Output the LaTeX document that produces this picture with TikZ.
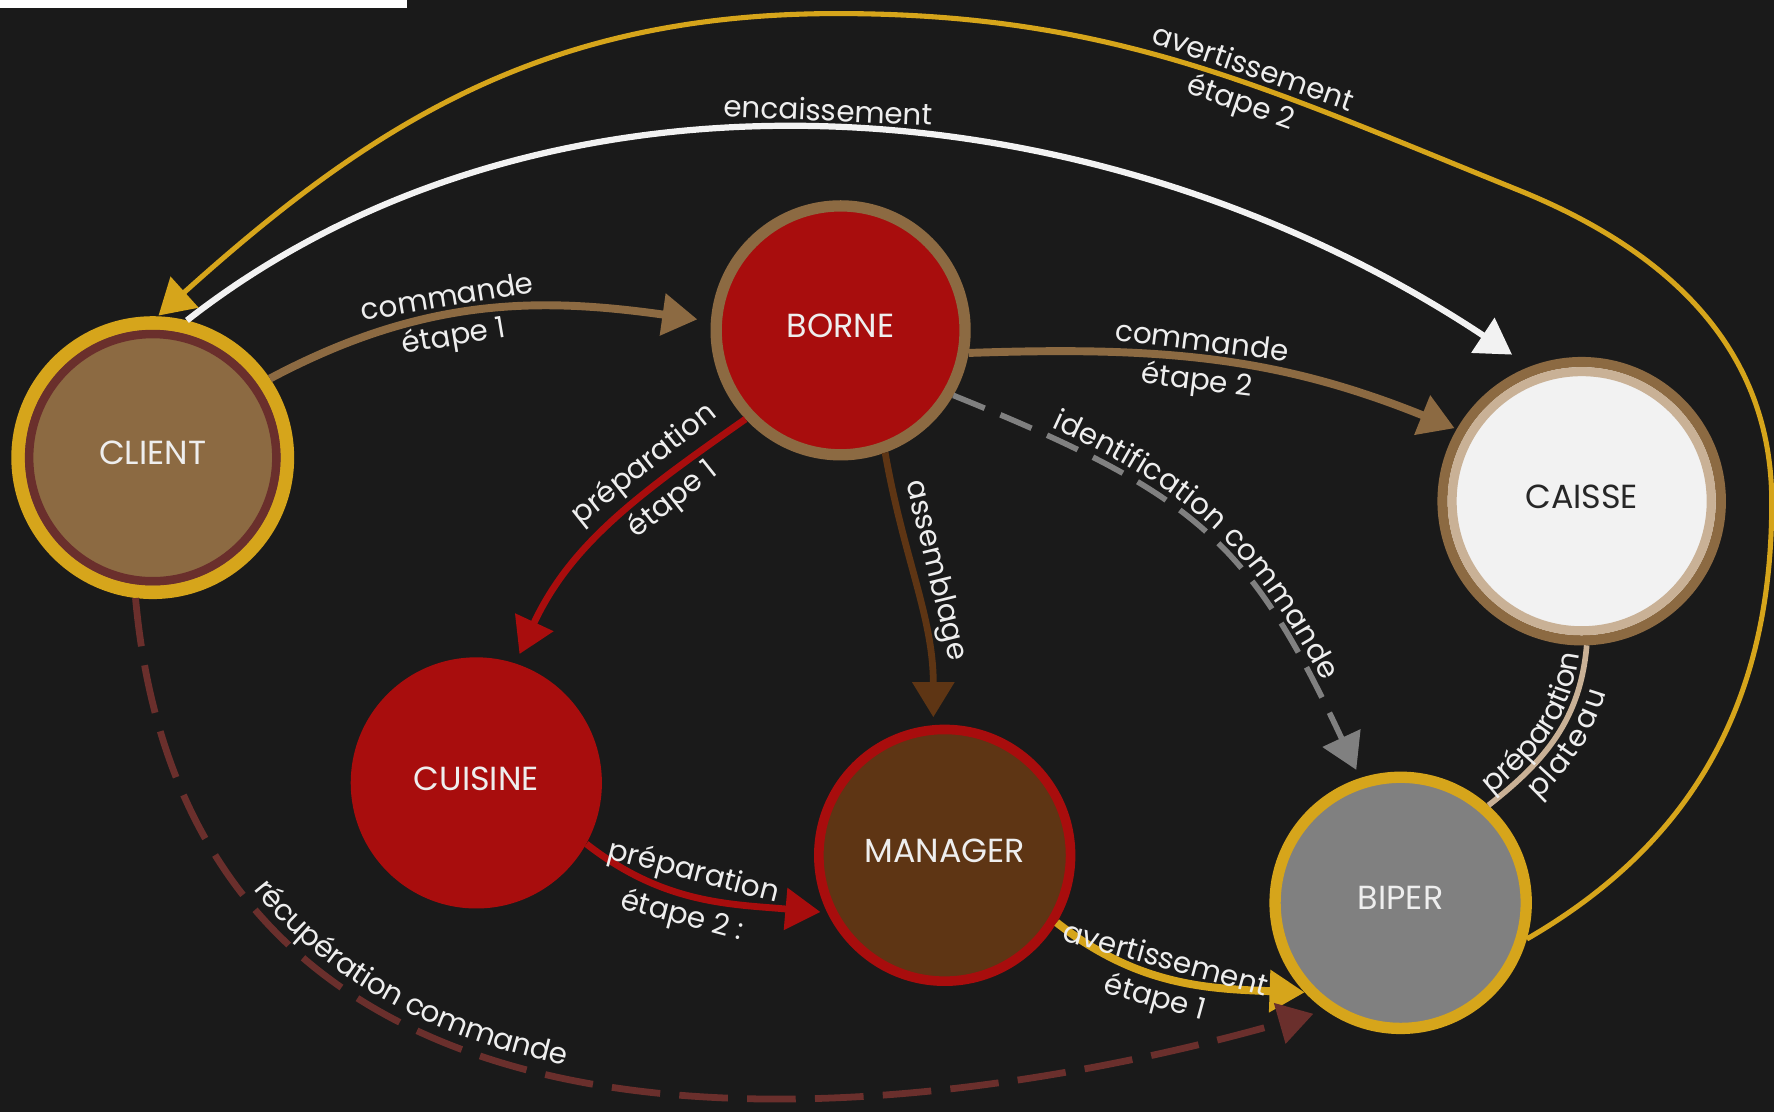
\documentclass[tikz,border=0pt]{standalone}
\usepackage{fontspec}
\setmainfont{Poppins}
\usetikzlibrary{arrows.meta,decorations.text}
\definecolor{bg}{HTML}{1A1A1A}
\definecolor{gold}{HTML}{D6A51B}
\definecolor{brn}{HTML}{8C6A42}
\definecolor{ring}{HTML}{6A2F2C}
\definecolor{rd}{HTML}{A80D0D}
\definecolor{dbrn}{HTML}{5E3514}
\definecolor{gry}{HTML}{808080}
\definecolor{beige}{HTML}{C9B196}
\definecolor{wht}{HTML}{F2F2F2}
\definecolor{txt}{HTML}{EEEEEE}
\newcommand\lblfont{\fontsize{26}{30}\selectfont}
\newcommand\ndfont{\fontsize{29.5}{34}\selectfont}
\begin{document}
\begin{tikzpicture}[x=1pt,y=1pt,
  circ/.style={circle, inner sep=0pt, font=\ndfont, text=txt, text depth=8pt},
  lbl/.style={font=\lblfont, text=txt, inner sep=3.5pt, sloped},
  tip/.style={-{Triangle[length=31pt,width=36pt]}},
]
\useasboundingbox (0,0) rectangle (1568,983);
\fill[bg] (0,0) rectangle (1568,983);
\fill[white] (0,976) rectangle (360,983);

% nodes
\node[circ, draw=gold, line width=12pt, fill=brn, minimum size=238pt] (client) at (135,578.5) {CLIENT};
\draw[ring, line width=7.5pt] (client.center) circle (109.25pt);
\node[circ, draw=brn, line width=10pt, fill=rd, minimum size=220pt] (borne) at (743,691) {BORNE};
\node[circ, draw=brn, line width=9pt, fill=wht, minimum size=246pt, text=black!85] (caisse) at (1398,540) {CAISSE};
\draw[beige, line width=8pt] (caisse.center) circle (114.5pt);
\node[circ, fill=rd, minimum size=222pt] (cuisine) at (421,291) {CUISINE};
\node[circ, draw=rd, line width=8.5pt, fill=dbrn, minimum size=222.5pt] (manager) at (835,227) {MANAGER};
\node[circ, draw=gold, line width=10pt, fill=gry, minimum size=222pt] (biper) at (1238,185) {BIPER};

% encaissement
\draw[wht, line width=5.5pt, tip, shorten >=19pt] (client.76) .. controls (480,946) and (965,916) .. (caisse.111)
  node[lbl, pos=0.5, above, inner sep=5pt] {encaissement};

% avertissement etape 2
\draw[gold, line width=4.5pt, tip, shorten >=1pt] (biper.-16) to[out=30,in=-90] (1566,539)
  to[out=90,in=-22] (1342,815)
  to[out=158,in=0] node[lbl,pos=0.4,above]{avertissement} node[lbl,pos=0.4,below]{étape 2} (740,971)
  to[out=180,in=42] (client.88);

% commande etape 1
\draw[brn, line width=7pt, tip, shorten >=12pt] (client.34) to[out=28,in=172]
  node[lbl,pos=0.42,above]{commande} node[lbl,pos=0.42,below]{étape 1} (borne.176);

% commande etape 2
\draw[brn, line width=7pt, tip, shorten >=2pt] (borne.-10) to[out=2,in=158]
  node[lbl,pos=0.46,above]{commande} node[lbl,pos=0.46,below]{étape 2} (caisse.150);

% preparation etape 1
\draw[rd, line width=6pt, tip, shorten >=9pt] (borne.223) to[out=215,in=65]
  node[lbl,pos=0.3,above]{préparation} node[lbl,pos=0.3,below]{étape 1} (cuisine.72);

% assemblage
\draw[dbrn, line width=6pt, tip, shorten >=7pt] (borne.-70) to[out=-80,in=90]
  node[lbl,pos=0.45,above]{assemblage} (manager.95);

% identification commande
\draw[gry, line width=5pt, dash pattern=on 30pt off 15pt, tip, shorten >=8pt] (borne.-30) to[out=-22,in=115,looseness=1.2] (biper.108);
\path[postaction={decorate}, decoration={text along path, text={|\lblfont\color{txt}|identification commande}, text align={align=center}, raise=8pt}]
  (borne.-30) to[out=-22,in=115,looseness=1.2] (biper.108);

% preparation etape 2
\draw[rd, line width=6pt, tip, shorten >=6pt] (cuisine.-29) to[out=-38,in=175]
  node[lbl,pos=0.45,above]{préparation} node[lbl,pos=0.45,below]{étape 2 :} (manager.206);

% avertissement etape 1
\draw[gold, line width=7pt, tip] (manager.-31) to[out=-38,in=178]
  node[lbl,pos=0.45,above]{avertissement} node[lbl,pos=0.45,below]{étape 1} (biper.223);

% preparation plateau
\draw[beige, line width=5pt] (caisse.-88) to[out=-95,in=38] (biper.48);
\path[postaction={decorate, decoration={text along path, text={|\lblfont\color{txt}|préparation}, text align={align=center}, raise=6pt}},
      postaction={decorate, decoration={text along path, text={|\lblfont\color{txt}|plateau}, text align={align=center}, raise=-24pt}}]
  (biper.48) to[out=38,in=-95] (caisse.-88);

% recuperation commande
\draw[ring, line width=6pt, dash pattern=on 43pt off 17pt, tip, shorten >=11pt] (client.-97) .. controls (173,-135) and (892,10) .. (biper.235);
\path[postaction={decorate}, decoration={text along path, text={|\lblfont\color{txt}|récupération commande}, text align={left indent=285pt}, raise=10pt}]
  (client.-97) .. controls (173,-135) and (892,10) .. (biper.235);
\end{tikzpicture}
\end{document}
